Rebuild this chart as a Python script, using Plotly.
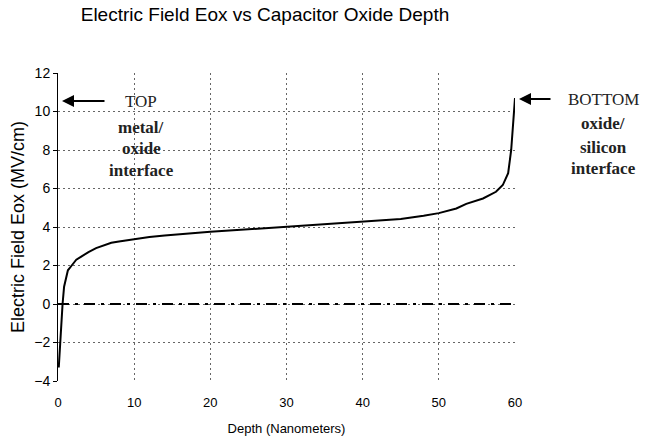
import plotly.graph_objects as go

# Electric field across the oxide, top (metal side) to bottom (silicon side)
depth_nm = [0.1, 0.25, 0.4, 0.6, 0.8, 1.0, 1.3, 1.8, 2.4, 3.0, 4.0, 5.0, 6.0, 7.0,
            8.0, 10.0, 12.0, 14.0, 16.0, 18.0, 20.0, 22.0, 25.0, 28.0, 30.0, 32.0,
            35.0, 38.0, 40.0, 42.0, 45.0, 48.0, 50.0, 52.3, 53.6, 55.8, 57.5,
            58.4, 59.1, 59.5, 59.7, 59.85, 60.0]
field_mv_cm = [-3.3, -2.2, -1.0, 0.0, 0.9, 1.3, 1.75, 2.0, 2.3, 2.45, 2.7, 2.9, 3.05,
               3.18, 3.25, 3.37, 3.48, 3.56, 3.63, 3.68, 3.75, 3.8, 3.88, 3.96, 4.02,
               4.07, 4.15, 4.22, 4.27, 4.32, 4.42, 4.58, 4.72, 4.96, 5.2, 5.48, 5.83,
               6.18, 6.8, 8.0, 9.2, 10.0, 10.7]

# Zero reference line across the oxide
zero_depth = [0, 60]
zero_field = [0, 0]

x_ticks = [0, 10, 20, 30, 40, 50, 60]
y_ticks = [-4, -2, 0, 2, 4, 6, 8, 10, 12]

top_labels = ["TOP", "metal/", "oxide", "interface"]
bottom_labels = ["BOTTOM", "oxide/", "silicon", "interface"]

W, H = 645, 448
ML, MR, MT, MB = 58, 130, 73, 67
PW, PH = W - ML - MR, H - MT - MB


def px_x(px):
    """Pixel column -> paper fraction of the plot area."""
    return (px - ML) / PW


def px_y(py):
    """Pixel row -> paper fraction of the plot area."""
    return (H - MB - py) / PH


fig = go.Figure()
fig.add_trace(go.Scatter(x=zero_depth, y=zero_field, mode="lines",
                         line=dict(color="black", width=2, dash="11px,6px,3px,6px"),
                         hoverinfo="skip", showlegend=False))
fig.add_trace(go.Scatter(x=depth_nm, y=field_mv_cm, mode="lines",
                         line=dict(color="black", width=2), showlegend=False))

serif = "Liberation Serif, Times New Roman, serif"
sans = "Liberation Sans, Arial, sans-serif"

# Arrows pointing at the two interfaces
fig.add_annotation(x=px_x(62), y=px_y(101), xref="paper", yref="paper", text="",
                   showarrow=True, ax=44, ay=0, arrowhead=2, arrowsize=1.2,
                   arrowwidth=2, arrowcolor="black")
fig.add_annotation(x=px_x(519), y=px_y(99), xref="paper", yref="paper", text="",
                   showarrow=True, ax=33, ay=0, arrowhead=2, arrowsize=1.2,
                   arrowwidth=2, arrowcolor="black")

top_y = [102, 127, 148, 170]
bottom_y = [99, 123, 147, 168]
for i, (label, py) in enumerate(zip(top_labels, top_y)):
    fig.add_annotation(x=px_x(141), y=px_y(py), xref="paper", yref="paper",
                       text=label if i == 0 else "<b>" + label + "</b>",
                       showarrow=False, xanchor="center", yanchor="middle",
                       font=dict(family=serif, size=17, color="#222"))
for i, (label, py) in enumerate(zip(bottom_labels, bottom_y)):
    fig.add_annotation(x=px_x(603), y=px_y(py), xref="paper", yref="paper",
                       text=label if i == 0 else "<b>" + label + "</b>",
                       showarrow=False, xanchor="center", yanchor="middle",
                       font=dict(family=serif, size=17, color="#222"))

fig.update_layout(
    width=W, height=H,
    margin=dict(l=ML, r=MR, t=MT, b=MB),
    paper_bgcolor="white", plot_bgcolor="white",
    title=dict(text="Electric Field Eox vs Capacitor Oxide Depth",
               xref="container", x=265 / W, xanchor="center",
               yref="container", y=1 - 14 / H, yanchor="middle",
               font=dict(family=sans, size=19, color="black")),
    font=dict(family=sans, color="black"),
)
fig.update_xaxes(range=[0, 60], tickvals=x_ticks, showline=False, zeroline=False,
                 showgrid=True, gridcolor="#666", griddash="2px,3px", gridwidth=1,
                 ticks="", ticklabelstandoff=12, tickfont=dict(size=13),
                 title=dict(text="Depth (Nanometers)", font=dict(size=13), standoff=14))
fig.update_yaxes(range=[-4, 12], tickvals=y_ticks, showline=True, linecolor="black",
                 linewidth=1, zeroline=False, ticks="outside", ticklen=4,
                 tickcolor="black", showgrid=True, gridcolor="#666",
                 griddash="2px,3px", gridwidth=1, tickfont=dict(size=14),
                 title=dict(text="Electric Field Eox (MV/cm)", font=dict(size=18),
                            standoff=4))

fig.write_html("out.html")
